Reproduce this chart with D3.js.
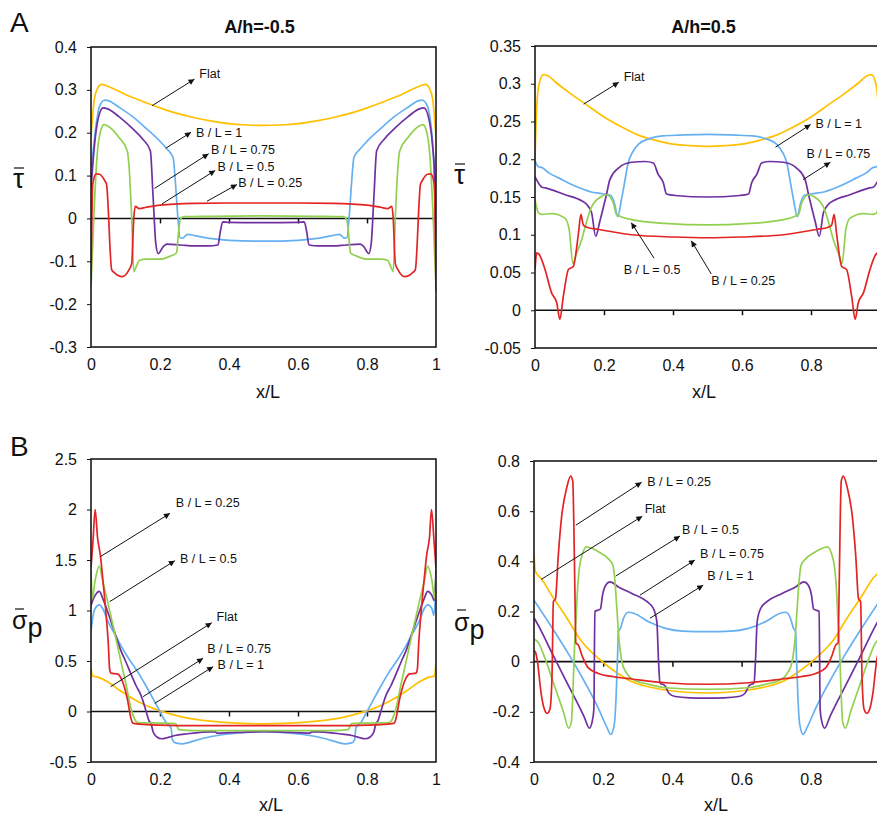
<!DOCTYPE html>
<html>
<head>
<meta charset="utf-8">
<script src="https://cdn.jsdelivr.net/npm/d3@7"></script>
<style>
  body { margin: 0; background: #fff; }
  text { font-family: "Liberation Sans", Arial, sans-serif; fill: #111; }
</style>
</head>
<body>
<div id="chart"></div>
<script>
// ---- data (x/L, value) ----
var xTicks = [0, 0.2, 0.4, 0.6, 0.8, 1];
var zeroTicks = [0.2, 0.4, 0.6, 0.8];

var tauNegTicks = [-0.3, -0.2, -0.1, 0, 0.1, 0.2, 0.3, 0.4];
var tauPosTicks = [-0.05, 0, 0.05, 0.1, 0.15, 0.2, 0.25, 0.3, 0.35];
var sigNegTicks = [-0.5, 0, 0.5, 1, 1.5, 2, 2.5];
var sigPosTicks = [-0.4, -0.2, 0, 0.2, 0.4, 0.6, 0.8];

var seriesColors = {
  flat: "#ffc000",
  b1: "#66b0f2",
  b075: "#7030a0",
  b05: "#92d050",
  b025: "#e32424"
};

// A, A/h = -0.5 : shear stress
var tauNeg_flat = [[0,0.19],[0.01,0.28],[0.02,0.305],[0.03,0.313],[0.05,0.308],[0.1,0.289],[0.15,0.273],[0.2,0.258],[0.25,0.245],[0.3,0.235],[0.35,0.227],[0.4,0.221],[0.45,0.218],[0.5,0.217],[0.55,0.218],[0.6,0.221],[0.65,0.227],[0.7,0.235],[0.75,0.245],[0.8,0.258],[0.85,0.273],[0.9,0.289],[0.95,0.308],[0.97,0.313],[0.98,0.305],[0.99,0.28],[1,0.19]];
var tauNeg_b1 = [[0,0.12],[0.005,0.15],[0.015,0.22],[0.025,0.262],[0.04,0.276],[0.05,0.275],[0.08,0.26],[0.12,0.238],[0.16,0.21],[0.2,0.18],[0.22,0.162],[0.238,0.142],[0.245,0.08],[0.252,0],[0.258,-0.045],[0.265,-0.046],[0.28,-0.037],[0.3,-0.04],[0.35,-0.047],[0.4,-0.051],[0.5,-0.053],[0.6,-0.051],[0.65,-0.047],[0.7,-0.04],[0.72,-0.037],[0.735,-0.046],[0.742,-0.045],[0.748,0],[0.755,0.08],[0.762,0.142],[0.78,0.162],[0.8,0.18],[0.84,0.21],[0.88,0.238],[0.92,0.26],[0.95,0.275],[0.96,0.276],[0.975,0.262],[0.985,0.22],[0.993,0.14],[1,-0.03]];
var tauNeg_b075 = [[0,0.07],[0.01,0.17],[0.02,0.23],[0.035,0.258],[0.05,0.255],[0.08,0.238],[0.12,0.21],[0.15,0.185],[0.172,0.158],[0.18,0.05],[0.188,-0.06],[0.195,-0.082],[0.21,-0.065],[0.22,-0.06],[0.26,-0.062],[0.3,-0.064],[0.34,-0.064],[0.368,-0.062],[0.375,-0.03],[0.382,-0.008],[0.4,-0.009],[0.5,-0.01],[0.6,-0.009],[0.618,-0.008],[0.625,-0.03],[0.632,-0.062],[0.66,-0.064],[0.7,-0.064],[0.74,-0.062],[0.78,-0.06],[0.79,-0.065],[0.805,-0.082],[0.812,-0.06],[0.82,0.05],[0.828,0.158],[0.85,0.185],[0.88,0.21],[0.92,0.238],[0.95,0.255],[0.965,0.258],[0.98,0.23],[0.99,0.17],[0.996,0.1],[1,-0.05]];
var tauNeg_b05 = [[0,-0.16],[0.008,0],[0.018,0.15],[0.03,0.21],[0.038,0.219],[0.05,0.215],[0.08,0.19],[0.105,0.158],[0.112,0.1],[0.118,0],[0.124,-0.124],[0.13,-0.115],[0.14,-0.098],[0.16,-0.095],[0.2,-0.095],[0.23,-0.088],[0.248,-0.08],[0.254,-0.03],[0.26,0],[0.27,0.004],[0.35,0.005],[0.5,0.006],[0.65,0.005],[0.73,0.004],[0.74,0],[0.746,-0.03],[0.752,-0.08],[0.77,-0.088],[0.8,-0.095],[0.84,-0.095],[0.86,-0.098],[0.87,-0.115],[0.876,-0.124],[0.882,0],[0.888,0.1],[0.895,0.158],[0.92,0.19],[0.95,0.215],[0.962,0.219],[0.97,0.21],[0.982,0.15],[0.992,0],[1,-0.16]];
var tauNeg_b025 = [[0,-0.15],[0.005,0.08],[0.015,0.104],[0.025,0.103],[0.04,0.088],[0.045,0.08],[0.06,-0.12],[0.07,-0.128],[0.08,-0.134],[0.09,-0.136],[0.1,-0.132],[0.11,-0.12],[0.118,-0.105],[0.124,0],[0.128,0.028],[0.14,0.023],[0.16,0.026],[0.2,0.031],[0.3,0.035],[0.4,0.036],[0.5,0.036],[0.6,0.036],[0.7,0.035],[0.8,0.031],[0.84,0.026],[0.86,0.023],[0.872,0.028],[0.876,0],[0.882,-0.105],[0.89,-0.12],[0.9,-0.132],[0.91,-0.136],[0.92,-0.134],[0.93,-0.128],[0.94,-0.12],[0.955,0.08],[0.96,0.088],[0.975,0.103],[0.985,0.104],[0.995,0.08],[1,-0.17]];

// A, A/h = 0.5 : shear stress
var tauPos_flat = [[0,0.2],[0.005,0.27],[0.012,0.3],[0.025,0.312],[0.04,0.31],[0.06,0.302],[0.1,0.288],[0.15,0.272],[0.2,0.256],[0.25,0.243],[0.3,0.232],[0.35,0.225],[0.4,0.22],[0.45,0.218],[0.5,0.217],[0.55,0.218],[0.6,0.22],[0.65,0.225],[0.7,0.232],[0.75,0.243],[0.8,0.256],[0.85,0.272],[0.9,0.288],[0.94,0.302],[0.96,0.31],[0.975,0.312],[0.988,0.3],[0.995,0.27],[1,0.2]];
var tauPos_b1 = [[0,0.198],[0.01,0.19],[0.02,0.189],[0.04,0.182],[0.07,0.175],[0.1,0.168],[0.13,0.162],[0.16,0.157],[0.2,0.154],[0.22,0.152],[0.23,0.142],[0.24,0.124],[0.25,0.145],[0.26,0.17],[0.27,0.195],[0.28,0.207],[0.3,0.22],[0.33,0.227],[0.37,0.231],[0.42,0.232],[0.5,0.233],[0.58,0.232],[0.63,0.231],[0.67,0.227],[0.7,0.22],[0.72,0.207],[0.73,0.195],[0.74,0.17],[0.75,0.145],[0.76,0.124],[0.77,0.142],[0.78,0.152],[0.8,0.154],[0.84,0.157],[0.87,0.162],[0.9,0.168],[0.93,0.175],[0.96,0.182],[0.98,0.189],[0.99,0.19],[1,0.198]];
var tauPos_b075 = [[0,0.177],[0.02,0.163],[0.03,0.162],[0.087,0.153],[0.135,0.145],[0.15,0.14],[0.164,0.129],[0.176,0.098],[0.188,0.118],[0.207,0.153],[0.217,0.173],[0.241,0.188],[0.28,0.196],[0.319,0.197],[0.343,0.195],[0.357,0.18],[0.372,0.169],[0.381,0.154],[0.406,0.152],[0.5,0.15],[0.594,0.152],[0.619,0.154],[0.628,0.169],[0.643,0.18],[0.657,0.195],[0.681,0.197],[0.72,0.196],[0.759,0.188],[0.783,0.173],[0.793,0.153],[0.812,0.118],[0.824,0.098],[0.836,0.129],[0.85,0.14],[0.865,0.145],[0.913,0.153],[0.97,0.162],[0.98,0.163],[1,0.177]];
var tauPos_b05 = [[0,0.146],[0.01,0.129],[0.02,0.127],[0.048,0.128],[0.087,0.122],[0.099,0.107],[0.11,0.062],[0.12,0.075],[0.135,0.093],[0.145,0.11],[0.164,0.137],[0.193,0.151],[0.207,0.153],[0.227,0.142],[0.236,0.127],[0.28,0.12],[0.377,0.115],[0.5,0.113],[0.623,0.115],[0.72,0.12],[0.764,0.127],[0.773,0.142],[0.793,0.153],[0.807,0.151],[0.836,0.137],[0.855,0.11],[0.865,0.093],[0.88,0.075],[0.89,0.062],[0.901,0.107],[0.913,0.122],[0.952,0.128],[0.98,0.127],[0.99,0.129],[1,0.146]];
var tauPos_b025 = [[0,0.054],[0.005,0.076],[0.012,0.074],[0.029,0.054],[0.048,0.023],[0.063,0.01],[0.072,-0.012],[0.082,0.018],[0.097,0.054],[0.111,0.058],[0.126,0.102],[0.133,0.127],[0.14,0.113],[0.15,0.11],[0.184,0.107],[0.28,0.1],[0.4,0.097],[0.5,0.096],[0.6,0.097],[0.72,0.1],[0.816,0.107],[0.85,0.11],[0.86,0.113],[0.867,0.127],[0.874,0.102],[0.889,0.058],[0.903,0.054],[0.918,0.018],[0.928,-0.012],[0.937,0.01],[0.952,0.023],[0.971,0.054],[0.988,0.074],[0.995,0.076],[1,0.054]];

// B, A/h = -0.5 : pressure
var sigNeg_flat = [[0,0.43],[0.005,0.35],[0.02,0.34],[0.05,0.29],[0.087,0.2],[0.136,0.1],[0.184,0.026],[0.232,-0.026],[0.28,-0.066],[0.33,-0.09],[0.377,-0.105],[0.44,-0.118],[0.5,-0.122],[0.56,-0.118],[0.623,-0.105],[0.67,-0.09],[0.72,-0.066],[0.768,-0.026],[0.816,0.026],[0.864,0.1],[0.913,0.2],[0.95,0.29],[0.98,0.34],[0.995,0.35],[1,0.48]];
var sigNeg_b1 = [[0,0.8],[0.006,0.95],[0.012,1.02],[0.024,1.055],[0.034,1.02],[0.048,0.9],[0.07,0.76],[0.087,0.65],[0.11,0.52],[0.136,0.39],[0.16,0.25],[0.184,0.1],[0.203,-0.02],[0.22,-0.12],[0.232,-0.16],[0.236,-0.28],[0.245,-0.31],[0.265,-0.32],[0.28,-0.31],[0.32,-0.27],[0.38,-0.23],[0.44,-0.21],[0.5,-0.2],[0.56,-0.21],[0.62,-0.23],[0.68,-0.27],[0.72,-0.31],[0.735,-0.32],[0.755,-0.31],[0.764,-0.28],[0.768,-0.16],[0.78,-0.12],[0.797,-0.02],[0.816,0.1],[0.84,0.25],[0.864,0.39],[0.89,0.52],[0.913,0.65],[0.93,0.76],[0.952,0.9],[0.966,1.02],[0.976,1.055],[0.988,1.02],[0.994,0.95],[1,1.3]];
var sigNeg_b075 = [[0,1.05],[0.005,1.1],[0.012,1.15],[0.024,1.19],[0.034,1.12],[0.048,0.99],[0.07,0.77],[0.087,0.6],[0.1,0.5],[0.116,0.37],[0.13,0.26],[0.145,0.16],[0.16,0],[0.168,-0.09],[0.174,-0.12],[0.18,-0.2],[0.19,-0.25],[0.205,-0.27],[0.22,-0.26],[0.24,-0.24],[0.28,-0.22],[0.36,-0.2],[0.365,-0.215],[0.4,-0.21],[0.5,-0.2],[0.6,-0.21],[0.635,-0.215],[0.64,-0.2],[0.72,-0.22],[0.76,-0.24],[0.78,-0.26],[0.795,-0.27],[0.81,-0.25],[0.82,-0.2],[0.826,-0.12],[0.832,-0.09],[0.84,0],[0.855,0.16],[0.87,0.26],[0.884,0.37],[0.9,0.5],[0.913,0.6],[0.93,0.77],[0.952,0.99],[0.966,1.12],[0.976,1.19],[0.988,1.15],[0.995,1.1],[1,1.4]];
var sigNeg_b05 = [[0,1.4],[0.004,1.12],[0.012,1.3],[0.024,1.44],[0.034,1.29],[0.048,1.09],[0.068,0.79],[0.087,0.49],[0.102,0.26],[0.116,0.03],[0.126,-0.07],[0.136,-0.11],[0.2,-0.115],[0.245,-0.12],[0.255,-0.18],[0.3,-0.19],[0.4,-0.19],[0.5,-0.19],[0.6,-0.19],[0.7,-0.19],[0.745,-0.18],[0.755,-0.12],[0.8,-0.115],[0.864,-0.11],[0.874,-0.07],[0.884,0.03],[0.898,0.26],[0.913,0.49],[0.932,0.79],[0.952,1.09],[0.966,1.29],[0.976,1.44],[0.988,1.3],[0.996,1.12],[1,1.35]];
var sigNeg_b025 = [[0,1.42],[0.006,1.7],[0.012,2.0],[0.019,1.72],[0.027,1.55],[0.034,1.32],[0.044,0.95],[0.05,0.68],[0.054,0.42],[0.058,0.38],[0.078,0.37],[0.087,0.33],[0.105,0.13],[0.116,-0.07],[0.121,-0.115],[0.14,-0.125],[0.2,-0.135],[0.3,-0.14],[0.4,-0.14],[0.5,-0.14],[0.6,-0.14],[0.7,-0.14],[0.8,-0.135],[0.86,-0.125],[0.879,-0.115],[0.884,-0.07],[0.895,0.13],[0.913,0.33],[0.922,0.37],[0.942,0.38],[0.946,0.42],[0.95,0.68],[0.956,0.95],[0.966,1.32],[0.973,1.55],[0.981,1.72],[0.987,2.0],[0.994,1.7],[1,1.42]];

// B, A/h = 0.5 : pressure
var sigPos_flat = [[0,0.43],[0.004,0.36],[0.022,0.33],[0.051,0.265],[0.09,0.185],[0.138,0.08],[0.186,0.013],[0.235,-0.04],[0.283,-0.08],[0.33,-0.1],[0.38,-0.113],[0.44,-0.122],[0.5,-0.125],[0.56,-0.122],[0.62,-0.113],[0.67,-0.1],[0.717,-0.08],[0.765,-0.04],[0.814,0.013],[0.862,0.08],[0.91,0.185],[0.949,0.265],[0.978,0.33],[0.996,0.36],[1,0.43]];
var sigPos_b1 = [[0,0.245],[0.05,0.14],[0.1,0.03],[0.15,-0.09],[0.186,-0.186],[0.21,-0.26],[0.222,-0.29],[0.232,-0.25],[0.237,-0.15],[0.241,0],[0.244,0.12],[0.25,0.133],[0.258,0.17],[0.273,0.197],[0.29,0.192],[0.33,0.16],[0.38,0.133],[0.43,0.122],[0.5,0.12],[0.57,0.122],[0.62,0.133],[0.67,0.16],[0.71,0.192],[0.727,0.197],[0.742,0.17],[0.75,0.133],[0.756,0.12],[0.759,0],[0.763,-0.15],[0.768,-0.25],[0.778,-0.29],[0.79,-0.26],[0.814,-0.186],[0.85,-0.09],[0.9,0.03],[0.95,0.14],[1,0.245]];
var sigPos_b075 = [[0,0.175],[0.02,0.125],[0.05,0.04],[0.09,-0.07],[0.12,-0.15],[0.145,-0.22],[0.16,-0.265],[0.168,-0.24],[0.173,-0.19],[0.176,0.2],[0.186,0.206],[0.192,0.21],[0.198,0.265],[0.21,0.31],[0.22,0.318],[0.244,0.298],[0.283,0.272],[0.326,0.24],[0.345,0.212],[0.355,0.16],[0.36,0],[0.364,-0.085],[0.378,-0.095],[0.39,-0.126],[0.408,-0.139],[0.45,-0.144],[0.5,-0.145],[0.55,-0.144],[0.592,-0.139],[0.61,-0.126],[0.622,-0.095],[0.636,-0.085],[0.64,0],[0.645,0.16],[0.655,0.212],[0.674,0.24],[0.717,0.272],[0.756,0.298],[0.78,0.318],[0.79,0.31],[0.802,0.265],[0.808,0.21],[0.814,0.206],[0.824,0.2],[0.827,-0.19],[0.832,-0.24],[0.84,-0.265],[0.855,-0.22],[0.88,-0.15],[0.91,-0.07],[0.95,0.04],[0.98,0.125],[1,0.175]];
var sigPos_b05 = [[0,0.09],[0.013,0.075],[0.03,0.02],[0.06,-0.1],[0.085,-0.2],[0.1,-0.265],[0.108,-0.24],[0.113,-0.1],[0.118,0.09],[0.122,0.18],[0.125,0.27],[0.13,0.36],[0.14,0.43],[0.152,0.458],[0.17,0.45],[0.19,0.435],[0.215,0.41],[0.228,0.385],[0.234,0.32],[0.24,0.2],[0.245,0.1],[0.254,0],[0.265,-0.04],[0.283,-0.069],[0.33,-0.09],[0.38,-0.104],[0.5,-0.11],[0.62,-0.104],[0.67,-0.09],[0.717,-0.069],[0.735,-0.04],[0.746,0],[0.755,0.1],[0.76,0.2],[0.766,0.32],[0.772,0.385],[0.785,0.41],[0.81,0.435],[0.83,0.45],[0.848,0.458],[0.86,0.43],[0.87,0.36],[0.875,0.27],[0.878,0.18],[0.882,0.09],[0.887,-0.1],[0.892,-0.24],[0.9,-0.265],[0.915,-0.2],[0.94,-0.1],[0.97,0.02],[0.987,0.075],[1,0.09]];
var sigPos_b025 = [[0,0.045],[0.005,0.035],[0.01,0],[0.02,-0.12],[0.03,-0.19],[0.038,-0.206],[0.046,-0.19],[0.052,-0.06],[0.056,0.24],[0.062,0.25],[0.07,0.42],[0.08,0.58],[0.094,0.69],[0.106,0.74],[0.112,0.72],[0.115,0.56],[0.118,0.3],[0.121,0.075],[0.128,0.066],[0.14,0.02],[0.157,-0.025],[0.186,-0.047],[0.23,-0.06],[0.283,-0.069],[0.38,-0.084],[0.5,-0.09],[0.62,-0.084],[0.717,-0.069],[0.77,-0.06],[0.814,-0.047],[0.843,-0.025],[0.86,0.02],[0.872,0.066],[0.879,0.075],[0.882,0.3],[0.885,0.56],[0.888,0.72],[0.894,0.74],[0.906,0.69],[0.92,0.58],[0.93,0.42],[0.938,0.25],[0.944,0.24],[0.948,-0.06],[0.954,-0.19],[0.962,-0.206],[0.97,-0.19],[0.98,-0.12],[0.99,0],[0.995,0.035],[1,0.045]];

// ---- arrow labels (data units: tail, head, text anchor) ----
var tauNegNotes = [
  { t: "Flat", tail: [0.177, 0.263], head: [0.300, 0.325], at: [0.314, 0.338] },
  { t: "B / L = 1", tail: [0.217, 0.164], head: [0.290, 0.201], at: [0.304, 0.201] },
  { t: "B / L = 0.75", tail: [0.184, 0.070], head: [0.341, 0.151], at: [0.348, 0.160] },
  { t: "B / L = 0.5", tail: [0.206, 0.034], head: [0.360, 0.112], at: [0.367, 0.121] },
  { t: "B / L = 0.25", tail: [0.336, 0.040], head: [0.423, 0.079], at: [0.427, 0.083] }
];
var tauPosNotes = [
  { t: "Flat", tail: [0.141, 0.273], head: [0.243, 0.302], at: [0.257, 0.309] },
  { t: "B / L = 1", tail: [0.697, 0.216], head: [0.799, 0.246], at: [0.813, 0.247] },
  { t: "B / L = 0.75", tail: [0.777, 0.173], head: [0.856, 0.196], at: [0.787, 0.208] },
  { t: "B / L = 0.5", tail: [0.345, 0.069], head: [0.279, 0.116], at: [0.257, 0.054] },
  { t: "B / L = 0.25", tail: [0.511, 0.048], head: [0.453, 0.092], at: [0.511, 0.039] }
];
var sigNegNotes = [
  { t: "B / L = 0.25", tail: [0.027, 1.533], head: [0.229, 1.962], at: [0.246, 2.071] },
  { t: "B / L = 0.5", tail: [0.054, 1.087], head: [0.243, 1.493], at: [0.258, 1.510] },
  { t: "Flat", tail: [0.057, 0.246], head: [0.350, 0.879], at: [0.364, 0.939] },
  { t: "B / L = 0.75", tail: [0.151, 0.147], head: [0.325, 0.527], at: [0.337, 0.622] },
  { t: "B / L = 1", tail: [0.185, 0.081], head: [0.354, 0.444], at: [0.367, 0.467] }
];
var sigPosNotes = [
  { t: "B / L = 0.25", tail: [0.121, 0.544], head: [0.311, 0.715], at: [0.327, 0.717] },
  { t: "Flat", tail: [0.021, 0.328], head: [0.313, 0.580], at: [0.320, 0.611] },
  { t: "B / L = 0.5", tail: [0.236, 0.341], head: [0.422, 0.501], at: [0.428, 0.527] },
  { t: "B / L = 0.75", tail: [0.306, 0.265], head: [0.465, 0.405], at: [0.480, 0.429] },
  { t: "B / L = 1", tail: [0.335, 0.173], head: [0.489, 0.305], at: [0.501, 0.345] }
];

// ylab: [glyph left x, baseline y, overbar y]
var panels = [
  { id: "p1", box: [91, 47, 436, 347], yDomain: [-0.3, 0.4], yTicks: tauNegTicks, ylab: "tau", ylabPos: [13, 188, 168], xlabX: 268, xlabY: 398, title: "A/h=-0.5",
    series: { flat: tauNeg_flat, b1: tauNeg_b1, b075: tauNeg_b075, b05: tauNeg_b05, b025: tauNeg_b025 }, notes: tauNegNotes },
  { id: "p2", box: [535, 46, 880, 348], yDomain: [-0.05, 0.35], yTicks: tauPosTicks, ylab: "tau", ylabPos: [454, 184, 164], xlabX: 704, xlabY: 398, title: "A/h=0.5",
    series: { flat: tauPos_flat, b1: tauPos_b1, b075: tauPos_b075, b05: tauPos_b05, b025: tauPos_b025 }, notes: tauPosNotes },
  { id: "p3", box: [91, 459, 436, 762], yDomain: [-0.5, 2.5], yTicks: sigNegTicks, ylab: "sig", ylabPos: [12, 629, 609], xlabX: 271, xlabY: 811,
    series: { flat: sigNeg_flat, b1: sigNeg_b1, b075: sigNeg_b075, b05: sigNeg_b05, b025: sigNeg_b025 }, notes: sigNegNotes },
  { id: "p4", box: [534, 461, 880, 762], yDomain: [-0.4, 0.8], yTicks: sigPosTicks, ylab: "sig", ylabPos: [454, 631, 610], xlabX: 716, xlabY: 811,
    series: { flat: sigPos_flat, b1: sigPos_b1, b075: sigPos_b075, b05: sigPos_b05, b025: sigPos_b025 }, notes: sigPosNotes }
];

var drawOrder = ["flat", "b1", "b075", "b05", "b025"];

var svg = d3.select("#chart").append("svg")
  .attr("width", 877)
  .attr("height", 818);

var defs = svg.append("defs");
defs.append("marker")
  .attr("id", "arrow")
  .attr("viewBox", "0 0 10 10")
  .attr("refX", 10)
  .attr("refY", 5)
  .attr("markerWidth", 8)
  .attr("markerHeight", 6)
  .attr("markerUnits", "userSpaceOnUse")
  .attr("orient", "auto")
  .append("path")
  .attr("d", "M0,0 L10,5 L0,10 Z")
  .attr("fill", "#111");

// panel letters
svg.append("text").attr("x", 10).attr("y", 32).style("font-size", "28px").text("A");
svg.append("text").attr("x", 10).attr("y", 456).style("font-size", "28px").text("B");

function drawPanel(p) {
  var x = d3.scaleLinear().domain([0, 1]).range([p.box[0], p.box[2]]);
  var y = d3.scaleLinear().domain(p.yDomain).range([p.box[3], p.box[1]]);
  var g = svg.append("g").attr("class", p.id);

  defs.append("clipPath").attr("id", "clip-" + p.id)
    .append("rect")
    .attr("x", p.box[0]).attr("y", p.box[1])
    .attr("width", p.box[2] - p.box[0]).attr("height", p.box[3] - p.box[1]);

  // y axis with short outside ticks
  var ya = g.append("g")
    .attr("transform", "translate(" + p.box[0] + ",0)")
    .call(d3.axisLeft(y).tickValues(p.yTicks).tickSize(4).tickPadding(10).tickFormat(String));
  ya.select(".domain").remove();
  ya.selectAll("line").attr("stroke", "#111");
  ya.selectAll("text").style("font-size", "16px").attr("fill", "#111");

  // x tick labels sit under the frame
  var xa = g.append("g")
    .attr("transform", "translate(0," + p.box[3] + ")")
    .call(d3.axisBottom(x).tickValues(xTicks).tickSize(0).tickPadding(12).tickFormat(String));
  xa.select(".domain").remove();
  xa.selectAll("text").style("font-size", "16px").attr("fill", "#111");

  // zero line (horizontal axis crosses at 0) with its tick marks
  var za = g.append("g")
    .attr("transform", "translate(0," + y(0) + ")")
    .call(d3.axisBottom(x).tickValues(zeroTicks).tickSize(5).tickFormat(""));
  za.select(".domain").remove();
  za.selectAll("line").attr("stroke", "#111").attr("stroke-width", 1.5);
  g.append("line")
    .attr("x1", x(0)).attr("x2", x(1))
    .attr("y1", y(0)).attr("y2", y(0))
    .attr("stroke", "#111").attr("stroke-width", 1.6);

  // curves
  var line = d3.line()
    .x(function (d) { return x(d[0]); })
    .y(function (d) { return y(d[1]); })
    .curve(d3.curveMonotoneX);
  var cg = g.append("g").attr("clip-path", "url(#clip-" + p.id + ")");
  drawOrder.forEach(function (k) {
    cg.append("path")
      .datum(p.series[k])
      .attr("d", line)
      .attr("fill", "none")
      .attr("stroke", seriesColors[k])
      .attr("stroke-width", 1.7)
      .attr("stroke-linejoin", "round");
  });

  // frame
  g.append("rect")
    .attr("x", p.box[0]).attr("y", p.box[1])
    .attr("width", p.box[2] - p.box[0]).attr("height", p.box[3] - p.box[1])
    .attr("fill", "none").attr("stroke", "#1a1a1a").attr("stroke-width", 1.6);

  // arrow annotations
  p.notes.forEach(function (n) {
    g.append("line")
      .attr("x1", x(n.tail[0])).attr("y1", y(n.tail[1]))
      .attr("x2", x(n.head[0])).attr("y2", y(n.head[1]))
      .attr("stroke", "#111").attr("stroke-width", 1)
      .attr("marker-end", "url(#arrow)");
    g.append("text")
      .attr("x", x(n.at[0])).attr("y", y(n.at[1]))
      .attr("dy", "0.35em")
      .style("font-size", "12.5px")
      .attr("fill", "#222")
      .text(n.t);
  });

  // axis titles
  if (p.title) {
    g.append("text")
      .attr("x", (p.box[0] + p.box[2]) / 2 - 4).attr("y", 33)
      .attr("text-anchor", "middle")
      .style("font-size", "18px").style("font-weight", "bold")
      .text(p.title);
  }
  g.append("text")
    .attr("x", p.xlabX).attr("y", p.xlabY)
    .attr("text-anchor", "middle")
    .style("font-size", "18px")
    .text("x/L");

  var lp = p.ylabPos;
  if (p.ylab === "tau") {
    g.append("text")
      .attr("x", lp[0]).attr("y", lp[1])
      .style("font-size", "28px")
      .text("τ");
    g.append("line")
      .attr("x1", lp[0] + 1).attr("x2", lp[0] + 11)
      .attr("y1", lp[2]).attr("y2", lp[2])
      .attr("stroke", "#111").attr("stroke-width", 1.2);
  } else {
    var t = g.append("text")
      .attr("x", lp[0]).attr("y", lp[1])
      .style("font-size", "25px");
    t.append("tspan").text("σ");
    t.append("tspan").attr("dy", 8).style("font-size", "27px").text("p");
    g.append("line")
      .attr("x1", lp[0] + 3).attr("x2", lp[0] + 12)
      .attr("y1", lp[2]).attr("y2", lp[2])
      .attr("stroke", "#111").attr("stroke-width", 1.2);
  }
}

panels.forEach(drawPanel);
</script>
</body>
</html>
